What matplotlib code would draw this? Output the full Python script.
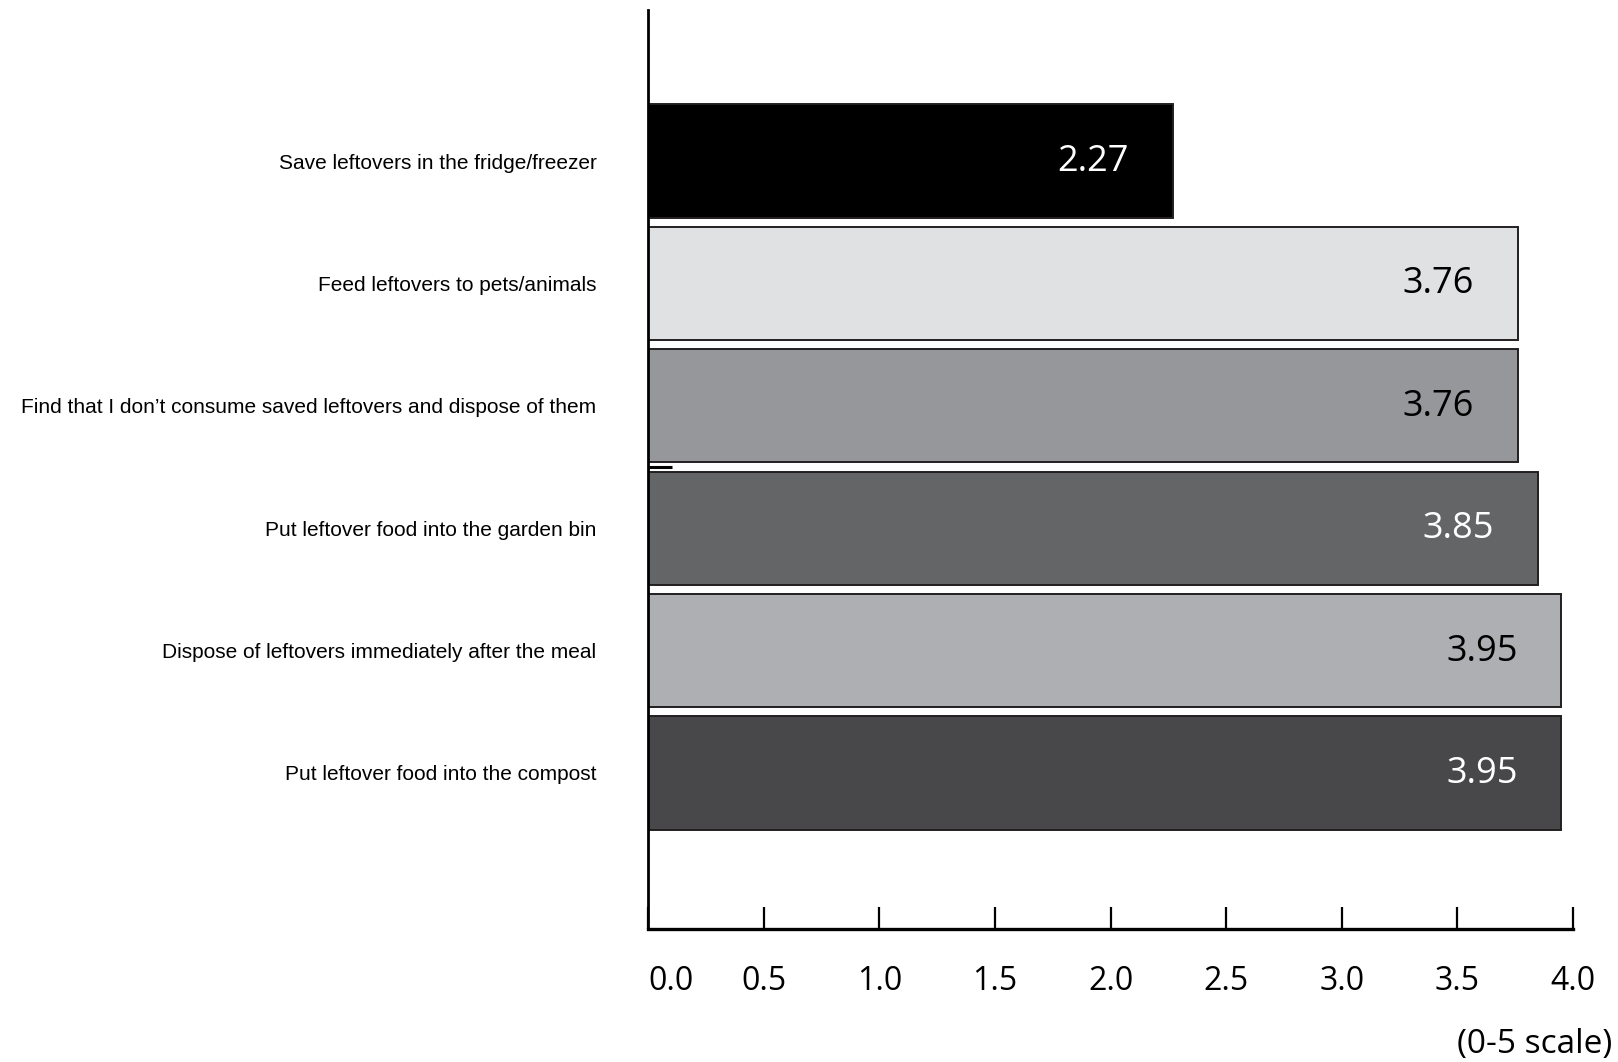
import numpy as np
import matplotlib
matplotlib.use("Agg")
import matplotlib.pyplot as plt

# survey items, top to bottom
labels = [
    "Save leftovers in the fridge/freezer",
    "Feed leftovers to pets/animals",
    "Find that I don\u2019t consume saved leftovers and dispose of them",
    "Put leftover food into the garden bin",
    "Dispose of leftovers immediately after the meal",
    "Put leftover food into the compost",
]
scores = [2.27, 3.76, 3.76, 3.85, 3.95, 3.95]
bar_colors = ["#000000", "#e0e1e3", "#96979a", "#646567", "#aeafb2", "#48484a"]
text_colors = ["white", "black", "black", "white", "black", "white"]
xticks = [0.0, 0.5, 1.0, 1.5, 2.0, 2.5, 3.0, 3.5, 4.0]

num_font = "Open Sans"

fig = plt.figure(figsize=(16.18, 10.62), dpi=100)
ax = fig.add_axes([0.4005, 0.1252, 0.5717, 0.8654])

y = np.arange(len(labels))
ax.barh(y, scores, height=0.925, color=bar_colors, edgecolor="#231f20", linewidth=1.4)

for yi, v, c in zip(y, scores, text_colors):
    ax.annotate(f"{v:.2f}", xy=(v, yi), xytext=(-44, -1), textcoords="offset pixels",
                ha="right", va="center", fontsize=26, color=c, family=num_font)

ax.set_xlim(0, 4)
ax.set_ylim(6.275, -1.234)

ax.set_yticks(y)
ax.set_yticklabels(labels, family="Liberation Sans", fontsize=15)
ax.tick_params(axis="y", length=0, pad=37)
# stray little stub between the 3rd and 4th bar
ax.set_yticks([2.5], minor=True)
ax.tick_params(axis="y", which="minor", direction="in", length=17, width=2.2, color="black")

ax.set_xticks(xticks)
ax.set_xticklabels([f"{t:.1f}" for t in xticks], family=num_font, fontsize=23)
ax.tick_params(axis="x", direction="in", length=16, width=1.6, pad=26, color="black")
ax.get_xticklabels()[0].set_horizontalalignment("left")

for s in ["top", "right"]:
    ax.spines[s].set_visible(False)
ax.spines["left"].set_linewidth(2)
ax.spines["bottom"].set_linewidth(2.4)

fig.text(0.9963, 0.0168, "(0-5 scale)", ha="right", va="center", family=num_font, fontsize=24)

fig.savefig("out.png", dpi=100)
